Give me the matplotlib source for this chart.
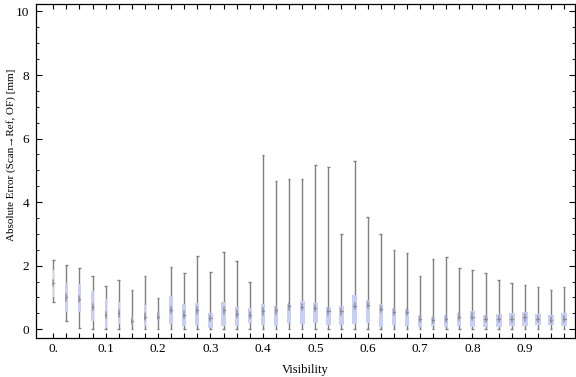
import matplotlib
matplotlib.use("Agg")
import matplotlib.pyplot as plt
import numpy as np

# ---- data ----
visibility = [i * 0.025 for i in range(40)]
whisker_lo = [0.87, 0.25, 0.04, 0.0, 0.0, 0.0, 0.0, 0.0, 0.0, 0.0,
              0.0, 0.0, 0.0, 0.0, 0.0, 0.0, 0.02, 0.0, 0.0, 0.0,
              0.0, 0.0, 0.0, 0.0, 0.0, 0.0, 0.0, 0.0, 0.0, 0.0,
              0.0, 0.0, 0.0, 0.0, 0.0, 0.0, 0.0, 0.0, 0.0, 0.0]
whisker_hi = [2.19, 2.03, 1.94, 1.66, 1.35, 1.56, 1.24, 1.68, 0.99, 1.96,
              1.77, 2.31, 1.80, 2.43, 2.14, 1.49, 5.47, 4.67, 4.72, 4.72,
              5.17, 5.10, 2.99, 5.30, 3.53, 2.99, 2.48, 2.40, 1.69, 2.21,
              2.27, 1.92, 1.85, 1.77, 1.56, 1.45, 1.39, 1.33, 1.22, 1.33]
q1 = [1.00, 0.54, 0.53, 0.27, 0.05, 0.16, 0.12, 0.09, 0.25, 0.17,
      0.09, 0.14, 0.04, 0.09, 0.09, 0.19, 0.14, 0.11, 0.18, 0.16,
      0.19, 0.12, 0.12, 0.16, 0.21, 0.06, 0.12, 0.09, 0.07, 0.09,
      0.07, 0.09, 0.06, 0.06, 0.07, 0.09, 0.11, 0.12, 0.12, 0.09]
q3 = [1.87, 1.45, 1.43, 1.19, 0.96, 0.85, 0.40, 0.77, 0.54, 1.03,
      0.80, 0.84, 0.51, 0.87, 0.70, 0.67, 0.80, 0.72, 0.80, 0.90,
      0.84, 0.69, 0.72, 1.08, 0.93, 0.80, 0.67, 0.64, 0.46, 0.37,
      0.46, 0.51, 0.58, 0.46, 0.49, 0.51, 0.55, 0.49, 0.46, 0.52]
median = [1.46, 1.00, 0.95, 0.70, 0.45, 0.50, 0.25, 0.40, 0.40, 0.61,
          0.46, 0.59, 0.35, 0.59, 0.49, 0.45, 0.56, 0.59, 0.72, 0.70,
          0.67, 0.56, 0.56, 0.74, 0.77, 0.64, 0.54, 0.54, 0.33, 0.28,
          0.32, 0.40, 0.40, 0.32, 0.33, 0.33, 0.37, 0.33, 0.30, 0.33]
x_tick_values = [0.0, 0.1, 0.2, 0.3, 0.4, 0.5, 0.6, 0.7, 0.8, 0.9]
x_tick_labels = ["0.", "0.1", "0.2", "0.3", "0.4", "0.5", "0.6", "0.7", "0.8", "0.9"]
y_tick_values = [0, 2, 4, 6, 8, 10]

# ---- style ----
box_w = [0.003, 0.005, 0.005, 0.005, 0.004, 0.004, 0.005, 0.005, 0.006, 0.008,
         0.008, 0.008, 0.008, 0.008, 0.008, 0.008, 0.009, 0.009, 0.009, 0.009,
         0.009, 0.009, 0.009, 0.009, 0.008, 0.008, 0.008, 0.008, 0.008, 0.008,
         0.008, 0.008, 0.011, 0.011, 0.011, 0.011, 0.011, 0.011, 0.011, 0.011]
box_color = "#c9cff4"
whisker_color = "#808080"
cap_half = 0.0025

serif = ["Liberation Serif", "DejaVu Serif"]
plt.rcParams["font.family"] = serif

fig = plt.figure(figsize=(5.76, 3.77), dpi=100)
ax = fig.add_axes([0.0625, 0.104, 0.936, 0.885])

for i, x in enumerate(visibility):
    ax.vlines(x, whisker_lo[i], whisker_hi[i], color=whisker_color, lw=1.0, zorder=2)
    ax.hlines([whisker_lo[i], whisker_hi[i]], x - cap_half, x + cap_half,
              color=whisker_color, lw=1.0, zorder=2)
    w = box_w[i]
    ax.bar(x, q3[i] - q1[i], bottom=q1[i], width=w, color=box_color,
           edgecolor="none", zorder=3)
    # fuzzy median marker
    ax.plot([x, x], [median[i] - 0.1, median[i] + 0.1], color="#707070",
            lw=1.3, alpha=0.5, solid_capstyle="round", zorder=4)
    ax.plot([x - w * 0.25, x + w * 0.25], [median[i], median[i]], color="#707070",
            lw=1.0, alpha=0.6, zorder=4)

ax.set_xlim(-0.033, 0.996)
ax.set_ylim(-0.27, 10.23)

ax.set_xticks(x_tick_values)
ax.set_xticklabels(x_tick_labels)
ax.set_xticks(visibility, minor=True)
ax.tick_params(axis="x", which="both", direction="in", length=3.5, width=0.8,
               top=True, bottom=True, labelsize=9.5, pad=4)

ax.set_yticks(y_tick_values)
ax.set_yticks(np.arange(0, 10.01, 0.5), minor=True)
ax.tick_params(axis="y", which="major", direction="in", length=4, width=0.8,
               left=True, right=True, labelsize=9.5, pad=5)
ax.tick_params(axis="y", which="minor", direction="in", length=2.5, width=0.6,
               left=True, right=True)

for s in ax.spines.values():
    s.set_linewidth(0.9)

ax.set_xlabel("Visibility", fontsize=9)
ax.xaxis.set_label_coords(0.5, -0.078)
ax.set_ylabel("Absolute Error (Scan\u2192Ref, OF) [mm]", fontsize=8)
ax.yaxis.set_label_coords(-0.038, 0.548)

fig.savefig("out.png", dpi=100)
